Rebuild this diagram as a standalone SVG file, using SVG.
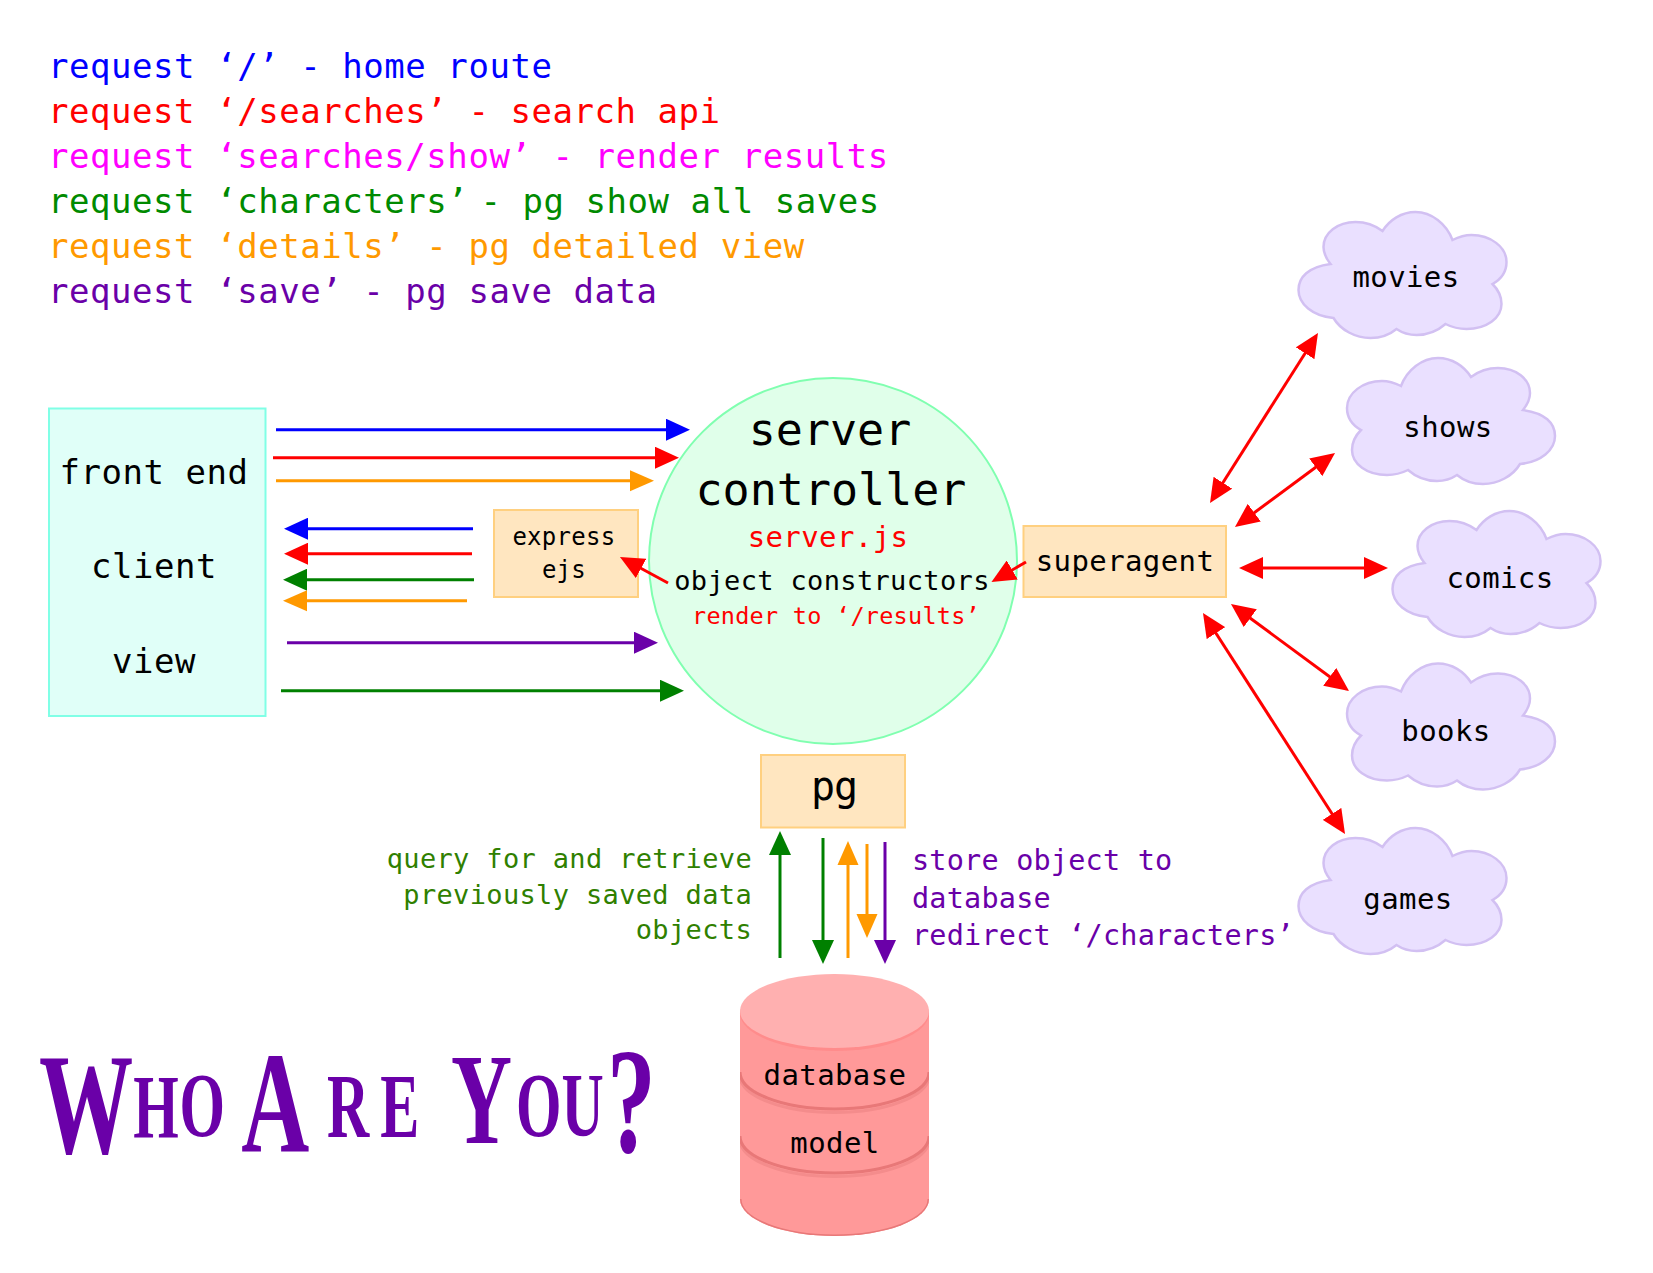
<svg xmlns="http://www.w3.org/2000/svg" width="1653" height="1273" viewBox="0 0 1653 1273">
<style>
text{font-family:"DejaVu Sans Mono","Liberation Mono",monospace;fill:#000}
.m{text-anchor:middle}.e{text-anchor:end}
.t48{font-size:45px;letter-spacing:.0px}
.t38{font-size:34px;letter-spacing:.55px}
.t32{font-size:29px;letter-spacing:.4px}
.t30{font-size:27px;letter-spacing:.35px}
.t31{font-size:28.500px;letter-spacing:.2px}
.t27{font-size:24px;letter-spacing:.3px}
.t26{font-size:23.500px;letter-spacing:.25px}
.pgl{font-size:40px;letter-spacing:-1px}
.blue{fill:#0000ff}.red{fill:#ff0000}.mag{fill:#ff00ff}.grn{fill:#008a00}.org{fill:#ff9900}.pur{fill:#6a00a8}.dgrn{fill:#2f8000}
.box{fill:#ffe6c0;stroke:#ffd080;stroke-width:2}
.cloud{fill:#eae0ff;stroke:#d2c0f2;stroke-width:2.5}
#connectors line{stroke-width:3;fill:none}
.lb{stroke:#0000ff;marker-end:url(#hb)}
.lr{stroke:#ff0000;marker-end:url(#hr)}
.lo{stroke:#ff9900;marker-end:url(#ho)}
.lg{stroke:#008000;marker-end:url(#hg)}
.lp{stroke:#6a00a8;marker-end:url(#hp)}
.ld{stroke:#ff0000;marker-start:url(#hr);marker-end:url(#hr)}
.band{fill:none;stroke-width:3}
.title{font-family:"Liberation Serif",serif;font-weight:bold;fill:#6a00a8;text-transform:uppercase}
</style>
<defs>
<marker id="hb" markerUnits="userSpaceOnUse" markerWidth="24" markerHeight="22" refX="16" refY="11" orient="auto-start-reverse"><path d="M0 0L24 11L0 22Z" fill="#0000ff"/></marker>
<marker id="hr" markerUnits="userSpaceOnUse" markerWidth="24" markerHeight="22" refX="16" refY="11" orient="auto-start-reverse"><path d="M0 0L24 11L0 22Z" fill="#ff0000"/></marker>
<marker id="ho" markerUnits="userSpaceOnUse" markerWidth="24" markerHeight="22" refX="16" refY="11" orient="auto-start-reverse"><path d="M0 0.500L24 11L0 21.500Z" fill="#ff9900"/></marker>
<marker id="hg" markerUnits="userSpaceOnUse" markerWidth="24" markerHeight="22" refX="16" refY="11" orient="auto-start-reverse"><path d="M0 0L24 11L0 22Z" fill="#008000"/></marker>
<marker id="hp" markerUnits="userSpaceOnUse" markerWidth="24" markerHeight="22" refX="16" refY="11" orient="auto-start-reverse"><path d="M0 0L24 11L0 22Z" fill="#6a00a8"/></marker>
<path id="cl" d="M32 52C10 55 0 65 0 78C0 92 14 104 35 106C42 118 57 126 72 126C83 126 92 122 98 117C104 121 111 123 118 123C128 123 139 119 147 112C153 115 160 117 168 117C188 117 203 106 203 92C203 84 200 78 194 72C203 67 208 59 208 50C208 35 192 23 173 23C166 23 160 25 154 28C148 12 133 0 117 0C103 0 91 8 84 19C76 13 67 10 57 10C39 10 25 21 25 35C25 42 28 47 32 52Z"/>
<clipPath id="cyl"><path d="M740 1011V1199A94.500 37 0 0 0 929 1199V1011Z"/></clipPath>
</defs>
<rect width="1653" height="1273" fill="#fff"/>

<g id="legend">
<text class="t38 blue" x="48" y="78">request ‘/’ - home route</text>
<text class="t38 red" x="48" y="123">request ‘/searches’ - search api</text>
<text class="t38 mag" x="48" y="168">request ‘searches/show’ - render results</text>
<text class="t38 grn" x="48" y="213">request ‘characters’<tspan dx="-9"> - pg show all saves</tspan></text>
<text class="t38 org" x="48" y="258">request ‘details’ - pg detailed view</text>
<text class="t38 pur" x="48" y="303">request ‘save’ - pg save data</text>
</g>

<g id="client">
<rect x="49" y="408.500" width="216.500" height="307.500" fill="#e0fff8" stroke="#80ffe6" stroke-width="2"/>
<text class="t38 m" x="154" y="484">front end</text>
<text class="t38 m" x="154" y="578">client</text>
<text class="t38 m" x="154" y="673">view</text>
</g>

<g id="server">
<ellipse cx="833" cy="561" rx="184" ry="183" fill="#e0ffea" stroke="#80ffb0" stroke-width="2"/>
<text class="t48 m" x="830" y="445">server</text>
<text class="t48 m" x="831" y="505">controller</text>
<text class="t32 m red" x="828" y="547">server.js</text>
<text class="t30 m" x="832" y="590">object constructors</text>
<text class="t26 m red" x="836" y="624">render to ‘/results’</text>
</g>

<g id="express">
<rect class="box" x="494" y="510" width="144" height="87"/>
<text class="t27 m" x="564" y="545">express</text>
<text class="t27 m" x="564" y="578">ejs</text>
</g>

<g id="superagent">
<rect class="box" x="1023.500" y="526" width="202.500" height="71"/>
<text class="t32 m" x="1125" y="571">superagent</text>
</g>

<g id="pg">
<rect class="box" x="761" y="755" width="144" height="72.500"/>
<text class="pgl m" x="834" y="800">pg</text>
</g>

<g id="movies"><use href="#cl" class="cloud" x="1298.500" y="212"/><text class="t32 m" x="1406" y="287">movies</text></g>
<g id="shows"><use href="#cl" class="cloud" transform="translate(1555 358) scale(-1 1)"/><text class="t32 m" x="1448" y="437">shows</text></g>
<g id="comics"><use href="#cl" class="cloud" x="1392.500" y="511"/><text class="t32 m" x="1500" y="588">comics</text></g>
<g id="books"><use href="#cl" class="cloud" transform="translate(1555 663.500) scale(-1 1)"/><text class="t32 m" x="1446" y="741">books</text></g>
<g id="games"><use href="#cl" class="cloud" x="1298.500" y="828"/><text class="t32 m" x="1408" y="909">games</text></g>

<g id="database">
<path d="M740 1011V1199A94.500 37 0 0 0 929 1199V1011Z" fill="#ff9999"/>
<g clip-path="url(#cyl)">
<path class="band" d="M740 1199A94.500 37 0 0 0 929 1199" stroke="#e87878"/>
<path class="band" d="M740 1075.500A94.500 37 0 0 0 929 1075.500" stroke="#f48c8c"/>
<path class="band" d="M740 1072A94.500 37 0 0 0 929 1072" stroke="#e87878"/>
<path class="band" d="M740 1139.500A94.500 37 0 0 0 929 1139.500" stroke="#f48c8c"/>
<path class="band" d="M740 1136A94.500 37 0 0 0 929 1136" stroke="#e87878"/>
</g>
<ellipse cx="834.500" cy="1013.500" rx="94.500" ry="37.500" fill="#ff8c8c"/>
<ellipse cx="834.500" cy="1011" rx="94.500" ry="37" fill="#ffb0b0"/>
<text class="t32 m" x="835" y="1085">database</text>
<text class="t32 m" x="835" y="1153">model</text>
</g>

<g id="query-note">
<text class="t30 e dgrn" x="752" y="868">query for and retrieve</text>
<text class="t30 e dgrn" x="752" y="904">previously saved data</text>
<text class="t30 e dgrn" x="752" y="939">objects</text>
</g>
<g id="store-note">
<text class="t31 pur" x="912" y="870">store object to</text>
<text class="t31 pur" x="912" y="908">database</text>
<text class="t31 pur" x="912" y="945">redirect ‘/characters’</text>
</g>

<g id="wordmark">
<text class="title" transform="scale(.65 1)"><tspan x="60" y="1153" font-size="145">W</tspan><tspan x="205" y="1138" font-size="90">h</tspan><tspan x="276" y="1136" font-size="90">o </tspan><tspan x="371" y="1152" font-size="145">A</tspan><tspan x="503" y="1137" font-size="90">r</tspan><tspan x="585" y="1137" font-size="90">e </tspan><tspan x="694" y="1143" font-size="130">Y</tspan><tspan x="794" y="1136" font-size="90">o</tspan><tspan x="864" y="1136" font-size="90">u</tspan><tspan x="934" y="1152" font-size="150">?</tspan></text>
</g>

<g id="connectors">
<line class="lb" x1="276" y1="429.700" x2="682" y2="429.700"/>
<line class="lr" x1="273" y1="457.700" x2="671" y2="457.700"/>
<line class="lo" x1="276" y1="480.700" x2="646" y2="480.700"/>
<line class="lb" x1="473" y1="528.700" x2="292" y2="528.700"/>
<line class="lr" x1="472" y1="553.700" x2="292" y2="553.700"/>
<line class="lg" x1="474" y1="579.700" x2="291" y2="579.700"/>
<line class="lo" x1="467" y1="600.700" x2="291" y2="600.700"/>
<line class="lp" x1="287" y1="642.700" x2="650" y2="642.700"/>
<line class="lg" x1="281" y1="690.700" x2="676" y2="690.700"/>
<line class="lr" x1="668" y1="583" x2="627" y2="560.800"/>
<line class="lr" x1="1026" y1="562" x2="998.400" y2="578"/>
<line class="ld" x1="1214.300" y1="496.200" x2="1313.700" y2="339.800"/>
<line class="ld" x1="1241.400" y1="522.200" x2="1328.600" y2="457.800"/>
<line class="ld" x1="1247" y1="568" x2="1380" y2="568"/>
<line class="ld" x1="1237.400" y1="608.700" x2="1342.600" y2="686.300"/>
<line class="ld" x1="1207.300" y1="619.700" x2="1340.700" y2="827.300"/>
<line class="lg" x1="780" y1="958" x2="780" y2="839"/>
<line class="lg" x1="823" y1="838" x2="823" y2="956"/>
<line class="lo" x1="848" y1="958" x2="848" y2="849"/>
<line class="lo" x1="867" y1="844" x2="867" y2="930"/>
<line class="lp" x1="885" y1="842" x2="885" y2="956"/>
</g>
</svg>
